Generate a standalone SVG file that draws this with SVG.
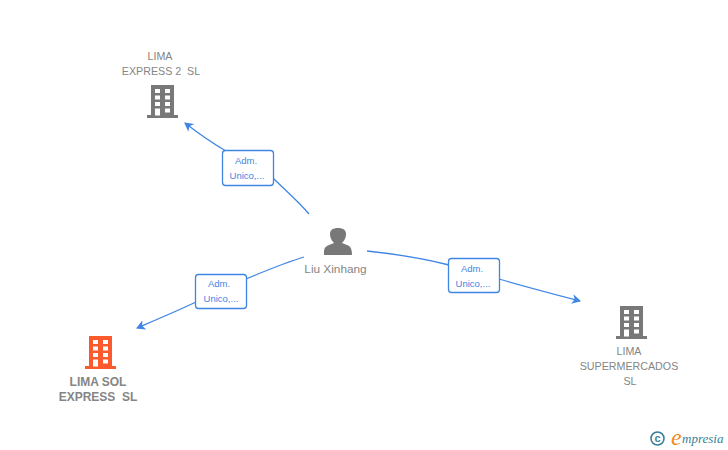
<svg xmlns="http://www.w3.org/2000/svg" width="728" height="450" viewBox="0 0 728 450">
<style>
text{font-family:"Liberation Sans",Arial,sans-serif}
.n{font-size:10.700px;fill:#858585;text-anchor:middle}
.b{font-weight:bold;font-size:12px;fill:#858585;text-anchor:middle}
.e{fill:none;stroke:#3f86e4;stroke-width:1.300}
.lb{fill:#fff;stroke:#3f86e4;stroke-width:1.300}
.lt{font-size:9.500px;fill:#3f86e4;text-anchor:middle}
.w{fill:#fff}
</style>
<defs>
<marker id="a" markerWidth="12" markerHeight="12" refX="8" refY="5" orient="auto" markerUnits="userSpaceOnUse"><path d="M0 0L9 5L0 10L2.500 5Z" fill="#3f86e4"/></marker>
<g id="bld">
<path d="M-12-16H11V14H15V17H-16V14H-12Z"/>
<g class="w">
<rect x="-8" y="-12" width="5" height="4"/><rect x="2" y="-12" width="5" height="4"/>
<rect x="-8" y="-5.500" width="5" height="4"/><rect x="2" y="-5.500" width="5" height="4"/>
<rect x="-8" y="1" width="5" height="4"/><rect x="2" y="1" width="5" height="4"/>
<rect x="-8" y="7.500" width="5" height="7"/><rect x="2" y="7.500" width="5" height="4"/>
</g>
</g>
</defs>
<g id="connectors">
<path class="e" d="M309 214C298 201 286 191 273 178" />
<path class="e" d="M226 151C212 143 198 133 185 123" marker-end="url(#a)"/>
<path class="e" d="M304 257C284 263 265 271 246 279"/>
<path class="e" d="M196 302C177 311 158 319 137 328" marker-end="url(#a)"/>
<path class="e" d="M367 251C395 254 422 258 449 265"/>
<path class="e" d="M499 279C526 287 553 294 580 301" marker-end="url(#a)"/>
<g>
<rect class="lb" x="222.500" y="150.500" width="51" height="35" rx="3"/>
<text class="lt" x="246" y="164">Adm.</text><text class="lt" x="247" y="179">Unico,...</text>
</g>
<g>
<rect class="lb" x="195.500" y="274.500" width="51" height="34" rx="3"/>
<text class="lt" x="219" y="287">Adm.</text><text class="lt" x="221" y="302">Unico,...</text>
</g>
<g>
<rect class="lb" x="448.500" y="258.500" width="51" height="34" rx="3"/>
<text class="lt" x="472" y="272">Adm.</text><text class="lt" x="473" y="287">Unico,...</text>
</g>
</g>
<g id="lima-express-2">
<text class="n" x="160" y="60">LIMA</text>
<text class="n" x="161" y="75" xml:space="preserve">EXPRESS 2  SL</text>
<use href="#bld" x="163" y="101" fill="#787878"/>
</g>
<g id="lima-sol">
<use href="#bld" x="101" y="352" fill="#fb5b2c"/>
<text class="b" x="98" y="386">LIMA SOL</text>
<text class="b" x="98" y="401" xml:space="preserve">EXPRESS  SL</text>
</g>
<g id="lima-supermercados">
<use href="#bld" x="632" y="322" fill="#787878"/>
<text class="n" x="629" y="355">LIMA</text>
<text class="n" x="629" y="370">SUPERMERCADOS</text>
<text class="n" x="630" y="385">SL</text>
</g>
<g id="liu-xinhang">
<path fill="#787878" d="M324 255V251C324 248 326 246 329 245L334 243C331 240 330 237 330 234C330 230 333 228 338 228C343 228 346 230 346 234C346 237 345 240 342 243L347 245C350 246 352 248 352 255Z"/>
<text x="335.500" y="273" font-size="11.800" fill="#858585" text-anchor="middle">Liu Xinhang</text>
</g>
<g id="logo">
<circle cx="657.500" cy="438.500" r="6.500" fill="none" stroke="#3a7f95" stroke-width="1.600"/>
<text x="657.500" y="442" font-size="11" font-weight="bold" fill="#3a7f95" text-anchor="middle">c</text>
<text x="671" y="445" font-size="24" font-style="italic" fill="#f08a1d" style="font-family:'Liberation Serif',serif">e</text>
<text x="682" y="443" font-size="13" font-style="italic" fill="#3a7f95" style="font-family:'Liberation Serif',serif">mpresia</text>
</g>
</svg>
